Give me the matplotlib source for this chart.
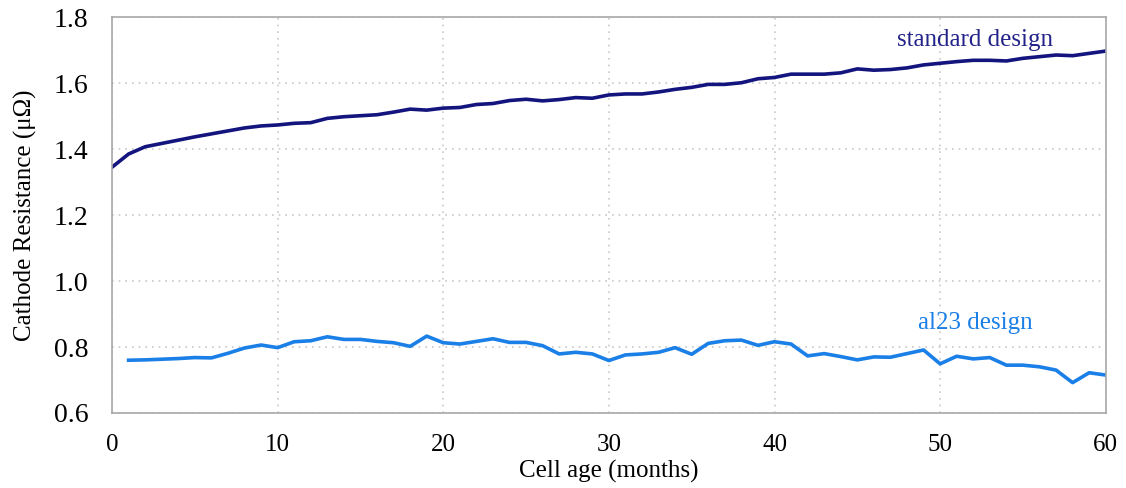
import matplotlib.pyplot as plt

months_std = list(range(0, 61))
standard = [1.345, 1.385, 1.407, 1.417, 1.427, 1.437, 1.446, 1.455, 1.464, 1.470,
            1.473, 1.478, 1.480, 1.493, 1.498, 1.501, 1.504, 1.512, 1.521, 1.518,
            1.524, 1.526, 1.535, 1.538, 1.547, 1.551, 1.546, 1.550, 1.556, 1.554,
            1.564, 1.567, 1.567, 1.573, 1.581, 1.587, 1.596, 1.596, 1.601, 1.613,
            1.617, 1.627, 1.627, 1.627, 1.631, 1.643, 1.639, 1.641, 1.646, 1.655,
            1.660, 1.665, 1.669, 1.669, 1.667, 1.675, 1.680, 1.685, 1.683, 1.690,
            1.697]

months_al = list(range(1, 61))
al23 = [0.760, 0.761, 0.763, 0.765, 0.768, 0.767, 0.781, 0.797, 0.806, 0.798,
        0.816, 0.819, 0.831, 0.823, 0.823, 0.817, 0.813, 0.802, 0.833, 0.813,
        0.809, 0.817, 0.825, 0.814, 0.814, 0.804, 0.779, 0.784, 0.779, 0.759,
        0.776, 0.779, 0.784, 0.798, 0.778, 0.811, 0.819, 0.821, 0.805, 0.816,
        0.809, 0.773, 0.780, 0.771, 0.761, 0.770, 0.769, 0.780, 0.791, 0.749,
        0.772, 0.764, 0.768, 0.745, 0.745, 0.740, 0.730, 0.692, 0.722, 0.715]

plt.rcParams['font.family'] = ['Liberation Serif', 'DejaVu Serif']

fig = plt.figure(figsize=(11.26, 4.88), dpi=100)
ax = fig.add_axes([0.0995, 0.1537, 0.8825, 0.8113])

ax.plot(months_std, standard, color='#14147e', lw=2.6, solid_joinstyle='round')
ax.plot(months_al, al23, color='#1a7fe6', lw=2.6, solid_joinstyle='round')

ax.text(52.1, 1.73, 'standard design', color='#23238a', fontsize=18,
        ha='center', va='center')
ax.text(52.1, 0.873, 'al23 design', color='#1a7fe6', fontsize=18,
        ha='center', va='center')

ax.set_xlim(0, 60)
ax.set_ylim(0.6, 1.8)
ax.set_xticks(range(0, 61, 10))
ax.set_yticks([0.6, 0.8, 1.0, 1.2, 1.4, 1.6, 1.8])
ax.set_yticklabels(['0.6', '0.8', '1.0', '1.2', '1.4', '1.6', '1.8'])
ax.tick_params(axis='y', length=0, labelsize=20, pad=17)
ax.tick_params(axis='x', length=0, labelsize=18, pad=15)
ax.grid(True, color='#c8c8c8', linestyle=(0, (1, 3)), lw=1.2)
for s in ax.spines.values():
    s.set_color('#a8a8a8')
    s.set_linewidth(1.2)

ax.set_xlabel('Cell age (months)', fontsize=18, labelpad=3)
ax.set_ylabel('Cathode Resistance (\u03bc\u03a9)', fontsize=18, labelpad=12)

fig.savefig('out.png', dpi=100)
